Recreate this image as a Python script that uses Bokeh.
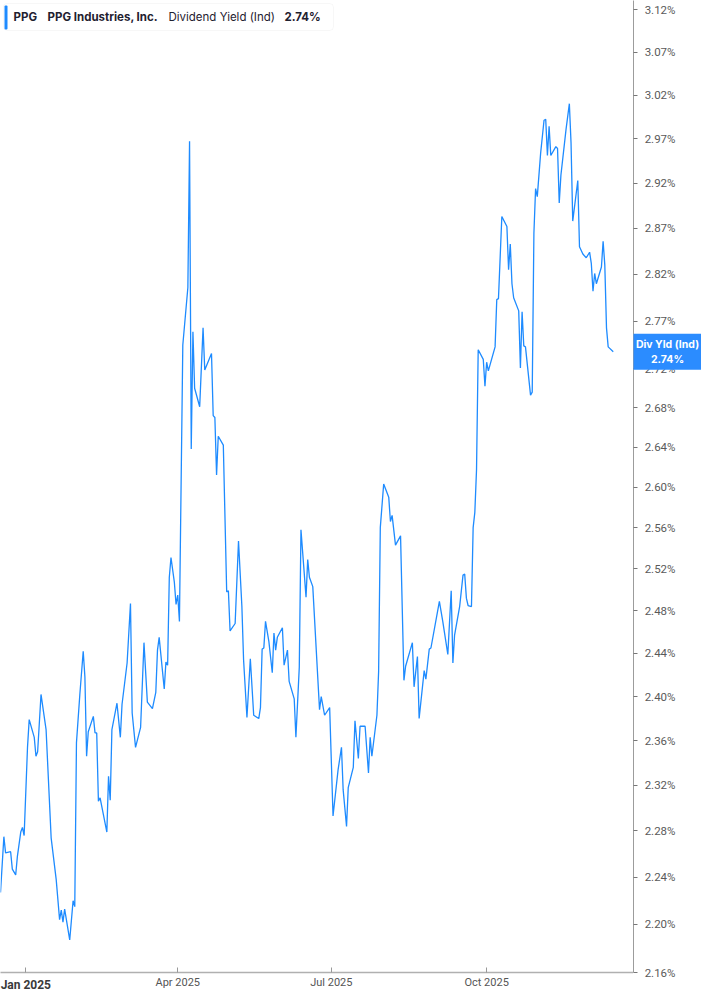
import pandas as pd
from bokeh.plotting import figure
from bokeh.layouts import row
from bokeh.models import (Range1d, FixedTicker, PrintfTickFormatter, DatetimeTickFormatter,
                          DatetimeAxis, Label, BoxAnnotation, Node)
from bokeh.embed import file_html
from bokeh.resources import INLINE

# PPG dividend yield (indicated)
dates = [
    "2024-12-17", "2024-12-19", "2024-12-20", "2024-12-23", "2024-12-24", "2024-12-26",
    "2024-12-27", "2024-12-29", "2024-12-30", "2024-12-31", "2025-01-02", "2025-01-03",
    "2025-01-06", "2025-01-07", "2025-01-08", "2025-01-10", "2025-01-13", "2025-01-16",
    "2025-01-19", "2025-01-21", "2025-01-22", "2025-01-23", "2025-01-24", "2025-01-27",
    "2025-01-29", "2025-01-30", "2025-01-31", "2025-02-02", "2025-02-04", "2025-02-05",
    "2025-02-06", "2025-02-07", "2025-02-10", "2025-02-11", "2025-02-12", "2025-02-13",
    "2025-02-14", "2025-02-18", "2025-02-19", "2025-02-20", "2025-02-21", "2025-02-24",
    "2025-02-26", "2025-02-27", "2025-03-02", "2025-03-04", "2025-03-05", "2025-03-07",
    "2025-03-10", "2025-03-12", "2025-03-14", "2025-03-17", "2025-03-19", "2025-03-20",
    "2025-03-21", "2025-03-24", "2025-03-25", "2025-03-26", "2025-03-27", "2025-03-28",
    "2025-03-30", "2025-03-31", "2025-04-01", "2025-04-02", "2025-04-04", "2025-04-07",
    "2025-04-08", "2025-04-09", "2025-04-10", "2025-04-11", "2025-04-14", "2025-04-16",
    "2025-04-17", "2025-04-21", "2025-04-22", "2025-04-23", "2025-04-24", "2025-04-25",
    "2025-04-28", "2025-04-30", "2025-05-01", "2025-05-02", "2025-05-05", "2025-05-07",
    "2025-05-09", "2025-05-10", "2025-05-12", "2025-05-14", "2025-05-16", "2025-05-19",
    "2025-05-20", "2025-05-21", "2025-05-22", "2025-05-23", "2025-05-25", "2025-05-27",
    "2025-05-28", "2025-05-29", "2025-05-30", "2025-06-02", "2025-06-03", "2025-06-05",
    "2025-06-06", "2025-06-09", "2025-06-10", "2025-06-12", "2025-06-13", "2025-06-16",
    "2025-06-17", "2025-06-18", "2025-06-20", "2025-06-24", "2025-06-25", "2025-06-27",
    "2025-06-30", "2025-07-02", "2025-07-05", "2025-07-07", "2025-07-08", "2025-07-10",
    "2025-07-11", "2025-07-14", "2025-07-15", "2025-07-17", "2025-07-18", "2025-07-21",
    "2025-07-23", "2025-07-24", "2025-07-25", "2025-07-28", "2025-07-29", "2025-07-30",
    "2025-08-01", "2025-08-04", "2025-08-05", "2025-08-06", "2025-08-08", "2025-08-11",
    "2025-08-13", "2025-08-14", "2025-08-18", "2025-08-19", "2025-08-21", "2025-08-22",
    "2025-08-25", "2025-08-26", "2025-08-28", "2025-08-29", "2025-09-03", "2025-09-05",
    "2025-09-08", "2025-09-10", "2025-09-11", "2025-09-12", "2025-09-15", "2025-09-17",
    "2025-09-18", "2025-09-19", "2025-09-20", "2025-09-22", "2025-09-23", "2025-09-24",
    "2025-09-25", "2025-09-26", "2025-09-29", "2025-09-30", "2025-10-01", "2025-10-02",
    "2025-10-06", "2025-10-07", "2025-10-08", "2025-10-10", "2025-10-13", "2025-10-14",
    "2025-10-15", "2025-10-16", "2025-10-17", "2025-10-20", "2025-10-21", "2025-10-22",
    "2025-10-23", "2025-10-24", "2025-10-27", "2025-10-28", "2025-10-29", "2025-10-30",
    "2025-10-31", "2025-11-02", "2025-11-04", "2025-11-05", "2025-11-06", "2025-11-07",
    "2025-11-08", "2025-11-11", "2025-11-12", "2025-11-13", "2025-11-14", "2025-11-17",
    "2025-11-19", "2025-11-20", "2025-11-21", "2025-11-24", "2025-11-25", "2025-11-27",
    "2025-11-29", "2025-12-01", "2025-12-02", "2025-12-03", "2025-12-04", "2025-12-05",
    "2025-12-08", "2025-12-09", "2025-12-10", "2025-12-11", "2025-12-12", "2025-12-15",
]
div_yield = [
    2.227, 2.275, 2.261, 2.262, 2.247, 2.242, 2.258, 2.279, 2.283, 2.276, 2.354, 2.379,
    2.363, 2.346, 2.350, 2.402, 2.370, 2.274, 2.238, 2.204, 2.212, 2.202, 2.213, 2.187,
    2.220, 2.215, 2.358, 2.402, 2.442, 2.418, 2.346, 2.368, 2.382, 2.367, 2.367, 2.306,
    2.309, 2.279, 2.328, 2.307, 2.370, 2.394, 2.363, 2.393, 2.431, 2.487, 2.385, 2.354,
    2.372, 2.450, 2.395, 2.389, 2.404, 2.443, 2.455, 2.407, 2.432, 2.429, 2.512, 2.531,
    2.507, 2.486, 2.495, 2.470, 2.745, 2.806, 2.967, 2.638, 2.759, 2.700, 2.681, 2.763,
    2.719, 2.736, 2.672, 2.670, 2.612, 2.651, 2.642, 2.498, 2.499, 2.461, 2.468, 2.547,
    2.484, 2.434, 2.381, 2.435, 2.383, 2.380, 2.390, 2.444, 2.445, 2.470, 2.451, 2.422,
    2.459, 2.443, 2.455, 2.464, 2.429, 2.443, 2.414, 2.398, 2.363, 2.427, 2.558, 2.493,
    2.529, 2.512, 2.503, 2.388, 2.400, 2.383, 2.390, 2.293, 2.334, 2.354, 2.316, 2.284,
    2.318, 2.336, 2.378, 2.344, 2.373, 2.373, 2.331, 2.363, 2.346, 2.383, 2.423, 2.560,
    2.603, 2.590, 2.566, 2.572, 2.543, 2.552, 2.415, 2.428, 2.450, 2.409, 2.437, 2.380,
    2.424, 2.416, 2.444, 2.445, 2.489, 2.470, 2.439, 2.499, 2.431, 2.457, 2.484, 2.514,
    2.515, 2.492, 2.485, 2.484, 2.560, 2.575, 2.617, 2.740, 2.730, 2.702, 2.727, 2.718,
    2.743, 2.793, 2.794, 2.883, 2.872, 2.825, 2.853, 2.810, 2.795, 2.781, 2.721, 2.780,
    2.744, 2.743, 2.693, 2.696, 2.865, 2.914, 2.905, 2.954, 2.991, 2.992, 2.951, 2.984,
    2.951, 2.961, 2.959, 2.898, 2.929, 2.980, 3.010, 2.965, 2.878, 2.923, 2.850, 2.842,
    2.838, 2.844, 2.832, 2.802, 2.821, 2.810, 2.828, 2.856, 2.830, 2.763, 2.743, 2.738,
]

y_ticks = [2.16, 2.20, 2.24, 2.28, 2.32, 2.36, 2.40, 2.44, 2.48, 2.52, 2.56, 2.60,
           2.64, 2.68, 2.72, 2.77, 2.82, 2.87, 2.92, 2.97, 3.02, 3.07, 3.12]
x_ticks = ["2025-01-01", "2025-04-01", "2025-07-01", "2025-10-01"]

symbol = "PPG"
company = "PPG Industries, Inc."
metric = "Dividend Yield (Ind)"
metric_short = "Div Yld (Ind)"

BLUE = "#1e8bff"
TAG_BLUE = "#2b8cff"
GREY = "#9c9c9c"

x_start = pd.Timestamp("2024-12-17")
x_end = pd.Timestamp("2025-12-27")
y_range = Range1d(2.16, 3.131)
last = div_yield[-1]

FRAME_H = 972

# main chart, no value axis of its own
p = figure(frame_width=633, frame_height=FRAME_H, x_axis_type="datetime",
           y_axis_type="log", x_range=Range1d(x_start, x_end), y_range=y_range,
           y_axis_location=None, toolbar_location=None, output_backend="svg",
           min_border_left=0, min_border_top=0, min_border_right=0,
           min_border_bottom=0)
p.grid.visible = False
p.outline_line_color = None

p.line(pd.to_datetime(dates), div_yield, line_color=BLUE, line_width=1.3)

tick_ms = [pd.Timestamp(d).value / 1e6 for d in x_ticks]
month_fmt = DatetimeTickFormatter(days="%b %Y", months="%b %Y", years="%b %Y")

xa = p.xaxis[0]
xa.ticker = FixedTicker(ticks=tick_ms)
xa.formatter = month_fmt
xa.major_label_overrides = {tick_ms[0]: ""}
xa.axis_line_color = "#b0b0b0"
xa.axis_line_width = 1.5
xa.major_tick_in = 5
xa.major_tick_out = 0
xa.major_tick_line_color = "#999999"
xa.minor_tick_line_color = None
xa.major_label_standoff = 3
xa.major_label_text_font = "Roboto"
xa.major_label_text_font_size = "11px"
xa.major_label_text_color = "#555555"

# year start label in bold, pulled up onto the same row as the others
year_axis = DatetimeAxis(ticker=FixedTicker(ticks=tick_ms[:1]), formatter=month_fmt,
                         axis_line_color=None, major_tick_line_color=None,
                         major_tick_in=0, major_tick_out=0,
                         minor_tick_line_color=None, major_label_standoff=-14,
                         major_label_text_font="Roboto",
                         major_label_text_font_size="12px",
                         major_label_text_font_style="bold",
                         major_label_text_color="#3a3a3a")
p.add_layout(year_axis, "below")

# legend box top left
p.add_layout(BoxAnnotation(
    left=Node(target="frame", symbol="left", offset=3),
    right=Node(target="frame", symbol="left", offset=333),
    top=Node(target="frame", symbol="top", offset=3),
    bottom=Node(target="frame", symbol="top", offset=30),
    fill_color="white", fill_alpha=1.0, line_color="#e4e4e4", line_width=1,
    border_radius=4))
p.add_layout(BoxAnnotation(
    left=Node(target="frame", symbol="left", offset=4),
    right=Node(target="frame", symbol="left", offset=7),
    top=Node(target="frame", symbol="top", offset=5),
    bottom=Node(target="frame", symbol="top", offset=29),
    fill_color=BLUE, fill_alpha=1.0, line_color=None, border_radius=1))

legend_parts = [(symbol, 13, "bold"), (company, 47, "bold"),
                (metric, 168, "normal"), (f"{last:.2f}%", 284, "bold")]
for txt, dx, style in legend_parts:
    p.add_layout(Label(x=x_start.value / 1e6, y=y_range.end, x_offset=dx, y_offset=-16,
                       text=txt, text_baseline="middle", text_font="Inter",
                       text_font_size="11.5px", text_font_style=style,
                       text_color="#1f2130"))

# value axis strip: its labels are pulled into its own frame so the
# last value tag can sit on top of them
side = figure(frame_width=68, frame_height=FRAME_H, y_axis_type="log",
              x_range=Range1d(0, 68), y_range=y_range, x_axis_location=None,
              toolbar_location=None, output_backend="svg",
              min_border_left=0, min_border_top=0, min_border_right=0,
              min_border_bottom=17)
side.grid.visible = False
side.outline_line_color = None

ya = side.yaxis[0]
ya.ticker = FixedTicker(ticks=y_ticks)
ya.formatter = PrintfTickFormatter(format="%.2f%%")
ya.axis_line_color = GREY
ya.major_tick_in = 4
ya.major_tick_out = 0
ya.major_tick_line_color = "#777777"
ya.minor_tick_line_color = None
ya.major_label_standoff = -42
ya.major_label_text_font = "Roboto"
ya.major_label_text_font_size = "11.5px"
ya.major_label_text_color = "#5a5a5a"

side.add_layout(Label(x=34, y=last, text=f"{metric_short}\n{last:.2f}%",
                      text_align="center", text_baseline="middle",
                      text_font="Inter", text_font_size="10.5px", text_font_style="bold",
                      text_color="white", text_line_height=1.15,
                      background_fill_color=TAG_BLUE, background_fill_alpha=1.0,
                      padding=4))

layout = row(p, side)
open("out.html", "w").write(file_html(layout, INLINE))
